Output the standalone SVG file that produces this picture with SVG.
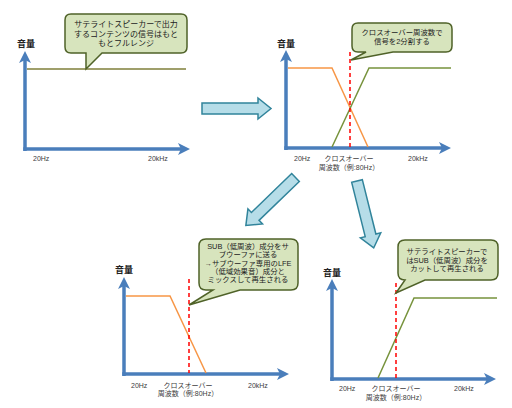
<svg xmlns="http://www.w3.org/2000/svg" width="512" height="408" viewBox="0 0 512 408">
<style>
text{font-family:"Liberation Sans","Noto Sans CJK JP",sans-serif;fill:#333}
.ax{stroke:#4a7ebb;stroke-width:3.5;fill:none;marker-end:url(#ah)}
.vol{font-size:9px;font-weight:bold;fill:#222}
.lbl{font-size:7px;fill:#404040}
.mid{text-anchor:middle}
.co{fill:#d7e4bd;stroke:#4f6228;stroke-width:1.5}
.ct{font-size:8px;text-anchor:middle;fill:#222}
.ct2{font-size:7.4px;text-anchor:middle;fill:#222}
.org{stroke:#f79646;stroke-width:1.5;fill:none}
.grn{stroke:#77933c;stroke-width:1.5;fill:none}
.red{stroke:#ff0000;stroke-width:1.5;stroke-dasharray:4 3}
.big{fill:#b6dde8;stroke:#31849b;stroke-width:1.5}
</style>
<defs>
<marker id="ah" markerUnits="userSpaceOnUse" markerWidth="12" markerHeight="12" viewBox="0 0 12 12" refX="8" refY="6" orient="auto">
<path d="M0,0 L12,6 L0,12 L3,6 Z" fill="#4a7ebb"/>
</marker>
<path id="barrow" d="M0,-5.5 H56 V-10.5 L69,0 L56,10.5 V5.5 H0 Z"/>
</defs>

<g id="connectors">
<use href="#barrow" class="big" transform="translate(202,108.5)"/>
<use href="#barrow" class="big" transform="translate(295.5,177.5) rotate(136)"/>
<use href="#barrow" class="big" transform="translate(357,181) rotate(76)"/>
</g>

<g id="panel1">
<line class="ax" x1="25" y1="151" x2="25" y2="55"/>
<line class="ax" x1="23.25" y1="149" x2="186" y2="149"/>
<line x1="27" y1="69" x2="186" y2="69" stroke="#7f7f3a" stroke-width="1.5"/>
<text class="vol" x="17" y="47">音量</text>
<text class="lbl" x="33" y="161">20Hz</text>
<text class="lbl" x="148" y="161">20kHz</text>
<path class="co" d="M71,14 H181 Q187,14 187,20 V47 Q187,53 181,53 H102 L86,69 L86,53 H71 Q65,53 65,47 V20 Q65,14 71,14 Z"/>
<text class="ct" x="126" y="27">サテライトスピーカーで出力</text>
<text class="ct" x="126" y="36.5">するコンテンツの信号はもと</text>
<text class="ct" x="126" y="46">もとフルレンジ</text>
</g>

<g id="panel2">
<line class="ax" x1="286" y1="150" x2="286" y2="54"/>
<line class="ax" x1="284.25" y1="148" x2="447" y2="148"/>
<polyline class="org" points="288,68 332,68 368,147"/>
<polyline class="grn" points="332,147 369,68 451,68"/>
<line class="red" x1="350" y1="52" x2="350" y2="147"/>
<text class="vol" x="277" y="47">音量</text>
<text class="lbl" x="294" y="161">20Hz</text>
<text class="lbl mid" x="349" y="161">クロスオーバー</text>
<text class="lbl mid" x="349" y="169.5">周波数（例:80Hz）</text>
<text class="lbl" x="408" y="161">20kHz</text>
<path class="co" d="M358,23 H446 Q452,23 452,29 V46 Q452,52 446,52 H393 L351,60 L366,52 H358 Q352,52 352,46 V29 Q352,23 358,23 Z"/>
<text class="ct2" x="402" y="35">クロスオーバー周波数で</text>
<text class="ct2" x="402" y="44">信号を2分割する</text>
</g>

<g id="panel3">
<line class="ax" x1="124" y1="376" x2="124" y2="281"/>
<line class="ax" x1="122.25" y1="374" x2="285" y2="374"/>
<polyline class="org" points="126,296 170,296 206,373"/>
<line class="red" x1="189" y1="279" x2="189" y2="373"/>
<text class="vol" x="115" y="273">音量</text>
<text class="lbl" x="131" y="388">20Hz</text>
<text class="lbl mid" x="188" y="388">クロスオーバー</text>
<text class="lbl mid" x="188" y="396">周波数（例:80Hz）</text>
<text class="lbl" x="248" y="388">20kHz</text>
<path class="co" d="M206,239 H291 Q298,239 298,246 V283 Q298,290 291,290 H240 L189,305 L213,290 H206 Q199,290 199,283 V246 Q199,239 206,239 Z"/>
<text class="ct2" x="248" y="249">SUB（低周波）成分をサ</text>
<text class="ct2" x="248" y="257.3">ブウーファに送る</text>
<text class="ct2" x="248" y="265.6">→サブウーファ専用のLFE</text>
<text class="ct2" x="248" y="274">（低域効果音）成分と</text>
<text class="ct2" x="248" y="282.3">ミックスして再生される</text>
</g>

<g id="panel4">
<line class="ax" x1="332" y1="381" x2="332" y2="283"/>
<line class="ax" x1="330.25" y1="379" x2="492" y2="379"/>
<polyline class="grn" points="378,378 414,298 497,298"/>
<line class="red" x1="396" y1="283" x2="396" y2="378"/>
<text class="vol" x="323" y="276">音量</text>
<text class="lbl" x="339" y="391">20Hz</text>
<text class="lbl mid" x="396" y="391">クロスオーバー</text>
<text class="lbl mid" x="396" y="399.5">周波数（例:80Hz）</text>
<text class="lbl" x="454" y="391">20kHz</text>
<path class="co" d="M405,240 H491 Q498,240 498,247 V273 Q498,280 491,280 H425 L396,293 L405,280 Q398,280 398,273 V247 Q398,240 405,240 Z"/>
<text class="ct2" x="447" y="254">サテライトスピーカーで</text>
<text class="ct2" x="447" y="262.5">はSUB（低周波）成分を</text>
<text class="ct2" x="447" y="271">カットして再生される</text>
</g>
</svg>
